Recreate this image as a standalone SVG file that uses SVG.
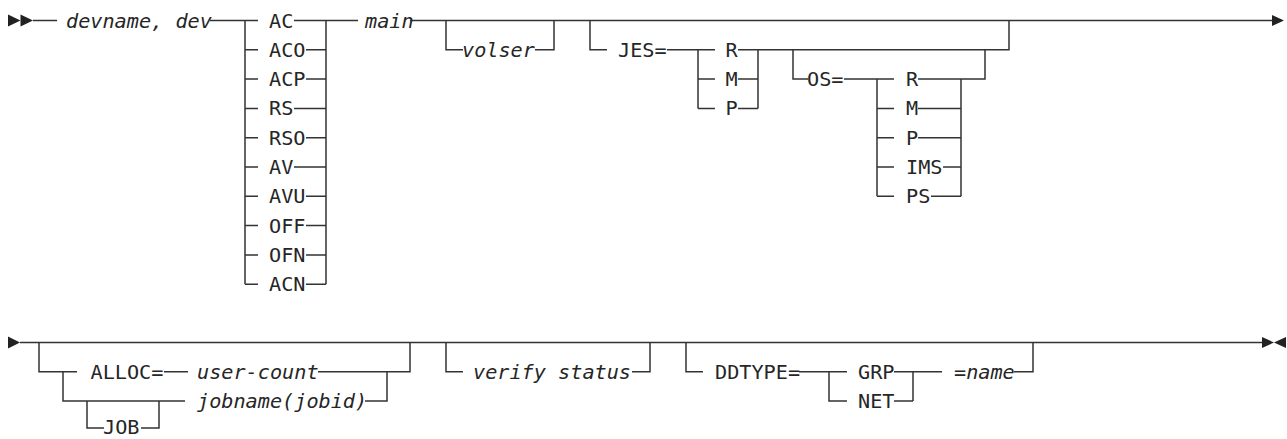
<svg xmlns="http://www.w3.org/2000/svg" width="1287" height="439" viewBox="0 0 1287 439">
<style>
.ln{stroke:#333;stroke-width:1.5;fill:none}
.ar{fill:#222;stroke:none}
text{font-family:"DejaVu Sans Mono","Liberation Mono",monospace;font-size:20.2px;fill:#262626}
.it{font-style:italic}
</style>
<rect width="1287" height="439" fill="#fff"/>
<g id="connectors">
<path class="ln" d="M33 20.5H57M210 20.5H258M294 20.5H358M410 20.5H1272"/>
<path class="ln" d="M245 20.5V284.2M245 49.8H258M245 79.1H258M245 108.4H258M245 137.7H258M245 167H258M245 196.3H258M245 225.6H258M245 254.9H258M245 284.2H258"/>
<path class="ln" d="M326 20.5V284.2M306 49.8H326M306 79.1H326M294 108.4H326M306 137.7H326M294 167H326M306 196.3H326M306 225.6H326M306 254.9H326M306 284.2H326"/>
<path class="ln" d="M446 20.5V49.8H463M535 49.8H554V20.5"/>
<path class="ln" d="M590 20.5V49.8H607M667 49.8H715M698 49.8V108.4M698 79.1H715M698 108.4H715M738 49.8H1009V20.5M758 49.8V108.4M738 79.1H758M738 108.4H758"/>
<path class="ln" d="M793 49.8V79.1H808M844 79.1H894M877 79.1V196.3M877 108.4H894M877 137.7H894M877 167H894M877 196.3H894M918 79.1H985V49.8M961 79.1V196.3M918 108.4H961M918 137.7H961M943 167H961M931 196.3H961"/>
<path class="ln" d="M20 342.5H1262"/>
<path class="ln" d="M39 342.5V371.7H77M63 371.7V400.9H185M164 371.7H188M318 371.7H410V342.5M365 400.9H387V371.7M87 400.9V428H104M141 428H159V400.9"/>
<path class="ln" d="M446 342.5V371.7H463M632 371.7H650V342.5"/>
<path class="ln" d="M686 342.5V371.7H703M799 371.7H847M829 371.7V400.9H847M894 371.7H942M894 400.9H913M913 371.7V400.9M1014 371.7H1033V342.5"/>
<polygon class="ar" points="8,14.5 20.5,20.5 8,26.5"/>
<polygon class="ar" points="20.5,14.5 33,20.5 20.5,26.5"/>
<polygon class="ar" points="1272,15 1284,20.5 1272,26"/>
<polygon class="ar" points="8,336.5 20,342.5 8,348.5"/>
<polygon class="ar" points="1262,337 1274,342.5 1262,348"/>
<polygon class="ar" points="1286,337 1274,342.5 1286,348"/>
</g>
<g id="n-devname"><text class="it" x="66" y="27.5">devname, dev</text></g>
<g id="n-AC"><text x="269" y="27.5">AC</text></g>
<g id="n-ACO"><text x="269" y="56.8">ACO</text></g>
<g id="n-ACP"><text x="269" y="86.1">ACP</text></g>
<g id="n-RS"><text x="269" y="115.4">RS</text></g>
<g id="n-RSO"><text x="269" y="144.7">RSO</text></g>
<g id="n-AV"><text x="269" y="174">AV</text></g>
<g id="n-AVU"><text x="269" y="203.3">AVU</text></g>
<g id="n-OFF"><text x="269" y="232.6">OFF</text></g>
<g id="n-OFN"><text x="269" y="261.9">OFN</text></g>
<g id="n-ACN"><text x="269" y="291.2">ACN</text></g>
<g id="n-main"><text class="it" x="365" y="27.5">main</text></g>
<g id="n-volser"><text class="it" x="462" y="56.8">volser</text></g>
<g id="n-JES"><text x="618" y="56.8">JES=</text></g>
<g id="n-JES-R"><text x="725.5" y="56.8">R</text></g>
<g id="n-JES-M"><text x="725.5" y="86.1">M</text></g>
<g id="n-JES-P"><text x="725.5" y="115.4">P</text></g>
<g id="n-OS"><text x="807" y="86.1">OS=</text></g>
<g id="n-OS-R"><text x="906" y="86.1">R</text></g>
<g id="n-OS-M"><text x="906" y="115.4">M</text></g>
<g id="n-OS-P"><text x="906" y="144.7">P</text></g>
<g id="n-OS-IMS"><text x="906" y="174">IMS</text></g>
<g id="n-OS-PS"><text x="906" y="203.3">PS</text></g>
<g id="n-ALLOC"><text x="90.5" y="378.7">ALLOC=</text></g>
<g id="n-usercount"><text class="it" x="197" y="378.7">user-count</text></g>
<g id="n-jobname"><text class="it" x="197" y="407.9">jobname(jobid)</text></g>
<g id="n-JOB"><text x="103" y="434">JOB</text></g>
<g id="n-verify"><text class="it" x="473" y="378.7">verify status</text></g>
<g id="n-DDTYPE"><text x="715" y="378.7">DDTYPE=</text></g>
<g id="n-GRP"><text x="858" y="378.7">GRP</text></g>
<g id="n-NET"><text x="858" y="407.9">NET</text></g>
<g id="n-name"><text x="954" y="378.7">=<tspan class="it">name</tspan></text></g>
</svg>
